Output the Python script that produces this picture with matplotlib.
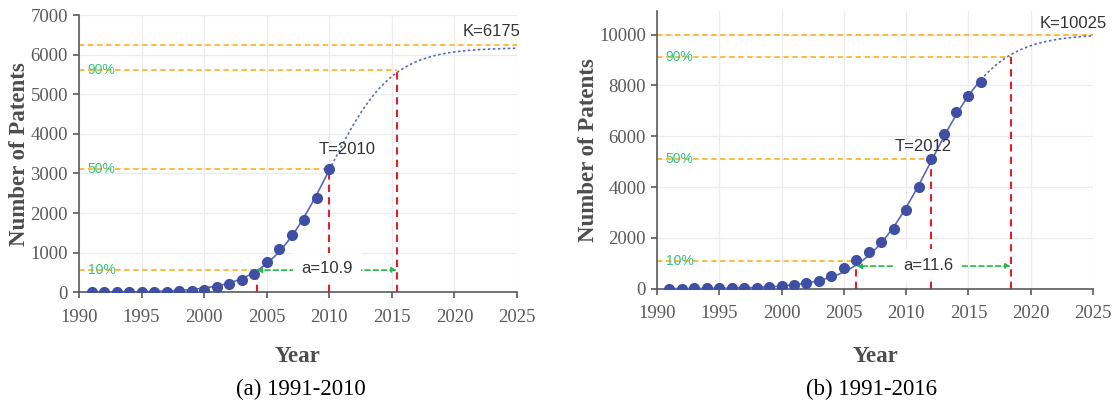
#!/usr/bin/env python3
# -*- coding: utf-8 -*-
"""

Logistic growth of patent counts, two fitting periods.

"""

import matplotlib
matplotlib.use('Agg')
import matplotlib.pyplot as plt
import numpy as np

# Patent counts
years_a = list(range(1991, 2011))
patents_a = [5, 6, 8, 10, 12, 15, 18, 25, 43, 70, 128, 205, 300, 460,
             775, 1090, 1440, 1820, 2380, 3120]

years_b = list(range(1991, 2017))
patents_b = [5, 6, 8, 10, 12, 15, 18, 25, 55, 100, 150, 225, 320, 500,
             800, 1140, 1460, 1830, 2360, 3090, 3990, 5100, 6100, 6970,
             7580, 8140]

# Fitted logistic parameters (as annotated)
K_a, T_a, a_a = 6175, 2010, 10.9
K_b, T_b, a_b = 10025, 2012, 11.6

# Guide line levels for 10%, 50%, 90% and K
levels_a = [555, 3120, 5600, 6250]
levels_b = [1100, 5100, 9134, 9990]
# Years where 10%, 50%, 90% are reached
cross_a = [2004.2, 2010, 2015.4]
cross_b = [2006.0, 2012, 2018.4]
pct_labels = ['10%', '50%', '90%']

# Colours
c_pt = '#3f4fa3'
c_fit = '#5b68bd'
c_or = '#ffb52e'
c_red = '#e0202a'
c_grn = '#27b84a'
c_pct = '#3cc47c'
c_tick = '#5a5a5a'

serif = 'Liberation Serif'
sans = 'Liberation Sans'


def logistic(t, K, T, a):
    r = np.log(81) / a
    return K / (1 + np.exp(-r * (t - T)))


def panel(ax, years, patents, K, T, a, levels, cross, ymax, yticks,
          arrow_y, a_xy, t_xy, k_xy):
    # Fit, solid over the data and dotted beyond
    t1 = np.linspace(years[0], years[-1], 200)
    t2 = np.linspace(years[-1], 2025, 200)
    ax.plot(t1, logistic(t1, K, T, a), color=c_fit, lw=1.2, zorder=3)
    ax.plot(t2, logistic(t2, K, T, a), color=c_fit, lw=1.2, ls=(0, (1.5, 1.5)), zorder=3)
    ax.plot(years, patents, 'o', color=c_pt, ms=7, zorder=4)

    # Orange levels and red drops
    ends = cross + [2025]
    for lev, xe in zip(levels, ends):
        ax.plot([1990, xe], [lev, lev], color=c_or, lw=1.3, ls=(0, (3, 2)), zorder=2)
    for lev, xc in zip(levels[:3], cross):
        ax.plot([xc, xc], [0, lev], color=c_red, lw=1.5, ls=(0, (3.5, 2.5)), zorder=2)
    for lev, lab in zip(levels[:3], pct_labels):
        ax.text(1990.7, lev, lab, color=c_pct, fontsize=10, family=sans,
                va='center', ha='left', zorder=5)

    # Width of the growth period
    ax.annotate('', xy=(cross[0], arrow_y), xytext=(cross[2], arrow_y),
                arrowprops=dict(arrowstyle='<|-|>', color=c_grn, lw=1.2, ls=(0, (3, 2)),
                                mutation_scale=7, shrinkA=0, shrinkB=0), zorder=5)
    ax.text(a_xy[0], a_xy[1], 'a=%.1f' % a, family=sans, fontsize=12, color='#333333',
            ha='center', va='center', zorder=6,
            bbox=dict(facecolor='white', edgecolor='none', pad=6))
    ax.text(t_xy[0], t_xy[1], 'T=%d' % T, family=sans, fontsize=12, color='#333333',
            ha='center', va='center', zorder=6)
    ax.text(k_xy[0], k_xy[1], 'K=%d' % K, family=sans, fontsize=12, color='#333333',
            ha='center', va='center', zorder=6, clip_on=False)

    ax.set_xlim(1990, 2025)
    ax.set_ylim(0, ymax)
    ax.set_xticks(range(1990, 2026, 5))
    ax.set_yticks(yticks)
    ax.grid(True, color='#ececec', lw=0.9, zorder=0)
    ax.set_axisbelow(True)
    for s in ['top', 'right']:
        ax.spines[s].set_visible(False)
    for s in ['left', 'bottom']:
        ax.spines[s].set_color(c_tick)
        ax.spines[s].set_linewidth(1.2)
    ax.tick_params(axis='both', colors=c_tick, length=4, width=1.2, labelsize=13.5)
    ax.tick_params(axis='x', pad=8)
    ax.tick_params(axis='y', pad=4)
    for lab in ax.get_xticklabels() + ax.get_yticklabels():
        lab.set_family(serif)
    ax.set_xlabel('Year', family=serif, fontsize=16.5, fontweight='bold', color='#4d4d4d')
    ax.set_ylabel('Number of Patents', family=serif, fontsize=16.5, fontweight='bold',
                  color='#4d4d4d')


fig = plt.figure(figsize=(11.16, 4.07), dpi=100)
ax1 = fig.add_axes([79 / 1116, 1 - 292.3 / 407, 438 / 1116, 277.3 / 407])
ax2 = fig.add_axes([657 / 1116, 1 - 288.7 / 407, 436 / 1116, 277.7 / 407])

panel(ax1, years_a, patents_a, K_a, T_a, a_a, levels_a, cross_a, 7000,
      range(0, 7001, 1000), 560, (2009.8, 600), (2011.4, 3600), (2023.0, 6580))
panel(ax2, years_b, patents_b, K_b, T_b, a_b, levels_b, cross_b, 10930,
      range(0, 10001, 2000), 890, (2011.8, 930), (2011.4, 5590), (2023.4, 10420))

ax1.yaxis.set_label_coords(-0.136, 0.5)
ax2.yaxis.set_label_coords(-0.156, 0.5)
ax1.xaxis.set_label_coords((297.7 - 79) / 438, -(356 - 292.3) / 277.3)
ax2.xaxis.set_label_coords((875.7 - 657) / 436, -(356 - 288.7) / 277.7)
for lab in [ax1.xaxis.label, ax2.xaxis.label, ax1.yaxis.label, ax2.yaxis.label]:
    lab.set_va('center')

fig.text(301 / 1116, 1 - 389 / 407, '(a) 1991-2010', family=serif, fontsize=16.5,
         ha='center', va='center')
fig.text(871.7 / 1116, 1 - 389 / 407, '(b) 1991-2016', family=serif, fontsize=16.5,
         ha='center', va='center')

plt.savefig('out.png', dpi=100)
